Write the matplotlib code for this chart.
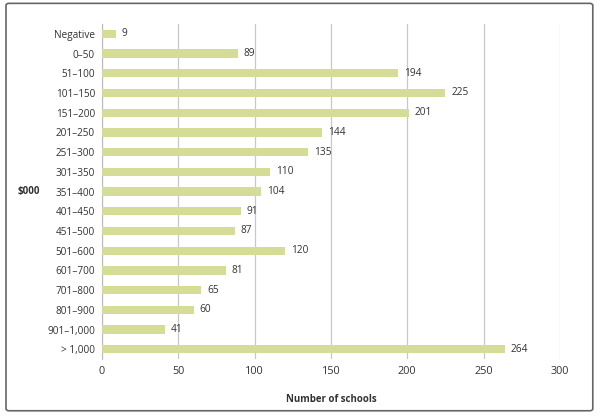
import matplotlib.pyplot as plt
from matplotlib.patches import FancyBboxPatch

plt.rcParams['font.family'] = ['Open Sans', 'DejaVu Sans']

categories = ['Negative', '0–50', '51–100', '101–150', '151–200', '201–250',
              '251–300', '301–350', '351–400', '401–450', '451–500', '501–600',
              '601–700', '701–800', '801–900', '901–1,000', '> 1,000']
schools = [9, 89, 194, 225, 201, 144, 135, 110, 104, 91, 87, 120, 81, 65, 60, 41, 264]
xticks = [0, 50, 100, 150, 200, 250, 300]

fig = plt.figure(figsize=(6, 4.2), dpi=100)
ax = fig.add_axes([0.17, 0.145, 0.763, 0.798])

pos = list(range(len(categories)))
ax.barh(pos, schools, height=0.42, color='#d5dc96', zorder=3)
for p, v in zip(pos, schools):
    ax.text(v + 4, p, str(v), va='center', ha='left', fontsize=7.3, color='#333333')

ax.set_ylim(len(categories) - 0.5, -0.5)
ax.set_yticks(pos)
ax.set_yticklabels(categories, fontsize=7.2, color='#333333')
ax.set_xlim(0, 300)
ax.set_xticks(xticks)
ax.set_xticklabels([str(t) for t in xticks], fontsize=7.8, color='#333333')
ax.tick_params(length=0, pad=5)
ax.xaxis.grid(True, color='#c8c8c8', linewidth=0.9, zorder=0)
for s in ['top', 'right', 'bottom']:
    ax.spines[s].set_visible(False)
ax.spines['left'].set_color('#bbbbbb')
ax.set_xlabel('Number of schools', fontsize=7, fontweight='bold', color='#333333', labelpad=12)
fig.text(0.03, 0.545, '$000', fontsize=7, fontweight='bold', color='#333333',
         ha='left', va='center')

border = FancyBboxPatch((0.01, 0.022), 0.978, 0.97, boxstyle='round,pad=0,rounding_size=0.005',
                        transform=fig.transFigure, fill=False, edgecolor='#666666', linewidth=1.2)
fig.patches.append(border)

fig.savefig('out.png', dpi=100)
